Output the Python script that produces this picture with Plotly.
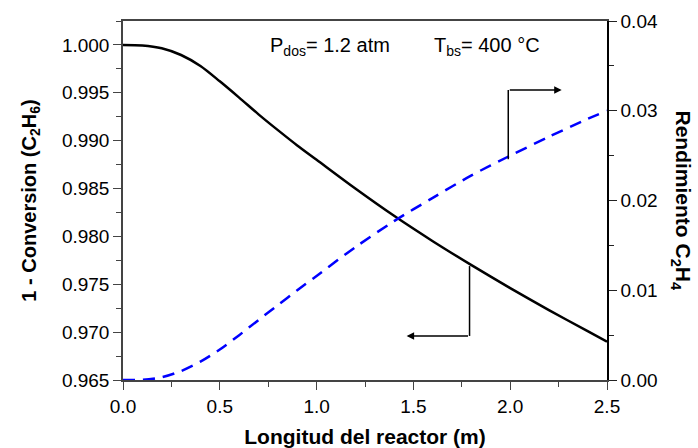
import plotly.graph_objects as go

# Data
x_conv = [0.0, 0.1, 0.2, 0.3, 0.4, 0.5, 0.6, 0.7, 0.8, 0.9, 1.0, 1.2, 1.4, 1.6, 1.8, 2.0, 2.2, 2.4, 2.5]
conv = [1.0000, 0.99995, 0.99965, 0.99895, 0.99780, 0.99620, 0.99450, 0.99275, 0.99110, 0.98950, 0.98800,
        0.98500, 0.98215, 0.97950, 0.97700, 0.97460, 0.97230, 0.97010, 0.96900]

x_rend = [0.0, 0.1, 0.2, 0.3, 0.4, 0.5, 0.6, 0.7, 0.8, 0.9, 1.0, 1.2, 1.4, 1.6, 1.8, 2.0, 2.2, 2.4, 2.5]
rend = [0.0, 0.00002, 0.00030, 0.00100, 0.00205, 0.00340, 0.00500, 0.00668, 0.00835, 0.01000, 0.01160,
        0.01480, 0.01770, 0.02030, 0.02280, 0.02500, 0.02710, 0.02910, 0.03000]

FONT = "Liberation Sans, Arial, sans-serif"

fig = go.Figure()
fig.add_trace(go.Scatter(x=x_conv, y=conv, mode="lines", line=dict(color="black", width=2.5, shape="spline", smoothing=0.8),
                         yaxis="y", showlegend=False))
fig.add_trace(go.Scatter(x=x_rend, y=rend, mode="lines",
                         line=dict(color="#0000ff", width=2.5, dash="12px,8px", shape="spline", smoothing=0.8),
                         yaxis="y2", showlegend=False))

axis_common = dict(showgrid=False, zeroline=False, ticks="outside", ticklen=8, tickwidth=1.3,
                   tickcolor="#444", linecolor="#444", linewidth=1.5, showline=True, automargin=False,
                   tickfont=dict(family=FONT, size=19, color="black"))

fig.update_layout(
    width=698, height=448,
    margin=dict(l=123, r=91, t=21, b=68),
    paper_bgcolor="white", plot_bgcolor="white",
    xaxis=dict(range=[0, 2.5], dtick=0.5, tickformat=".1f", mirror=True,
               minor=dict(dtick=0.25, ticks="outside", ticklen=5, tickcolor="#444"),
               title=dict(text="<b>Longitud del reactor (m)</b>", font=dict(family=FONT, size=21, color="black"), standoff=15),
               **axis_common),
    yaxis=dict(range=[0.965, 1.0025], dtick=0.005, tickformat=".3f",
               minor=dict(dtick=0.0025, ticks="outside", ticklen=5, tickcolor="#444"),
               title=dict(text="<b>1 - Conversion (C<sub>2</sub>H<sub>6</sub>)</b>", font=dict(family=FONT, size=20, color="black"), standoff=20),
               **axis_common),
    yaxis2=dict(range=[0, 0.04], dtick=0.01, tickformat=".2f", overlaying="y", side="right",
                minor=dict(dtick=0.005, ticks="outside", ticklen=5, tickcolor="#222"),
                **{**axis_common, "linecolor": "black", "tickcolor": "#222"}),
)

# Right axis title (reads top to bottom)
fig.add_annotation(text="<b>Rendimiento C<sub>2</sub>H<sub>4</sub></b>", xref="paper", yref="paper",
                   x=1.155, y=0.5, xanchor="center", yanchor="middle", textangle=90, showarrow=False,
                   font=dict(family=FONT, size=21, color="black"))

# Conditions text
fig.add_annotation(text="P<sub>dos</sub>= 1.2 atm        T<sub>bs</sub>= 400 °C", xref="paper", yref="paper",
                   x=0.30, y=0.93, xanchor="left", yanchor="middle", showarrow=False,
                   font=dict(family=FONT, size=20, color="black"))

# Pointer arrows
fig.add_shape(type="line", xref="x", yref="y", x0=1.79, x1=1.79, y0=0.9769, y1=0.9696,
              line=dict(color="black", width=1.5))
fig.add_annotation(x=1.465, y=0.9696, ax=1.79, ay=0.9696, xref="x", yref="y", axref="x", ayref="y",
                   showarrow=True, arrowhead=2, arrowsize=1, arrowwidth=1.5, arrowcolor="black", text="")
fig.add_shape(type="line", xref="x", yref="y2", x0=1.99, x1=1.99, y0=0.0246, y1=0.03231,
              line=dict(color="black", width=1.5))
fig.add_annotation(x=2.266, y=0.03231, ax=1.99, ay=0.03231, xref="x", yref="y2", axref="x", ayref="y2",
                   showarrow=True, arrowhead=2, arrowsize=1, arrowwidth=1.5, arrowcolor="black", text="")

fig.write_html("out.html")
